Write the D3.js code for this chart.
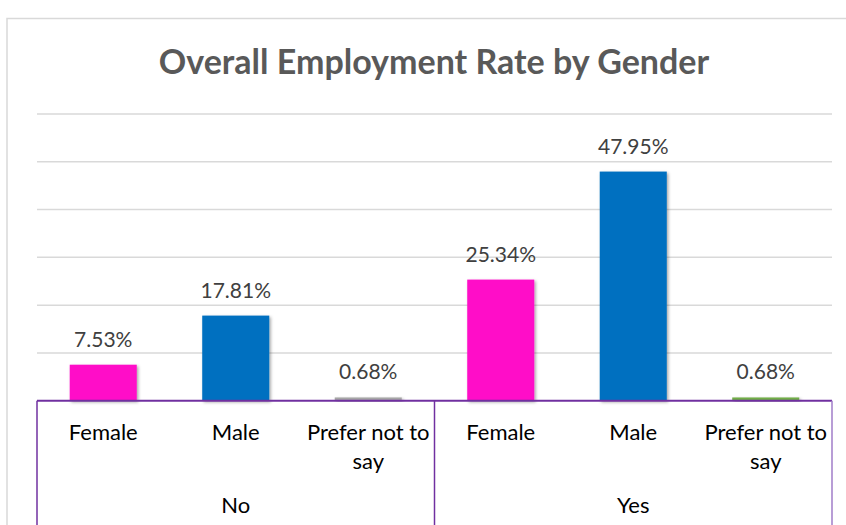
<!DOCTYPE html>
<html>
<head>
<meta charset="utf-8">
<script src="https://cdn.jsdelivr.net/npm/d3@7"></script>
<style>
  html, body { margin: 0; padding: 0; background: #fff; }
  svg { display: block; }
</style>
</head>
<body>
<svg id="chart" width="846" height="525"></svg>
<script>
// ---- data ----
const chartTitle = "Overall Employment Rate by Gender";
const groups = ["No", "Yes"];
const genders = ["Female", "Male", "Prefer not to say"];
const valuesNo = [7.53, 17.81, 0.68];
const valuesYes = [25.34, 47.95, 0.68];
const colorsNo = ["#FF0BC8", "#0070C0", "#A5A5A5"];
const colorsYes = ["#FF0BC8", "#0070C0", "#70AD47"];
const yTicks = [0, 10, 20, 30, 40, 50, 60];

(function () {
const rows = [];
groups.forEach((g, gi) => {
  const vals = gi === 0 ? valuesNo : valuesYes;
  const cols = gi === 0 ? colorsNo : colorsYes;
  genders.forEach((c, ci) => rows.push({ key: g + "|" + c, group: g, cat: c, value: vals[ci], color: cols[ci] }));
});

const svg = d3.select("#chart");
const font = "Lato, 'Open Sans', sans-serif";

const pLeft = 37, pRight = 832, pTop = 114, pBase = 400.7;

const x = d3.scaleBand().domain(rows.map(d => d.key)).range([pLeft, pRight]).paddingInner(0.494).paddingOuter(0.247);
const y = d3.scaleLinear().domain([0, 60]).range([pBase, pTop]);

// shadow filter
const defs = svg.append("defs");
const f = defs.append("filter").attr("id", "shadow").attr("x", "-20%").attr("y", "-20%").attr("width", "140%").attr("height", "140%");
f.append("feDropShadow").attr("dx", 1.5).attr("dy", 1.5).attr("stdDeviation", 1.6).attr("flood-color", "#000").attr("flood-opacity", 0.35);

// chart border (left and top edges visible)
svg.append("path").attr("d", "M7,525 V18.5 H846").attr("fill", "none").attr("stroke", "#D9D9D9").attr("stroke-width", 1.5);

// title
svg.append("text").attr("x", 434).attr("y", 74).attr("text-anchor", "middle")
  .attr("font-family", font).attr("font-weight", "bold").attr("font-size", 34).attr("fill", "#595959").text(chartTitle);

// gridlines
svg.append("g").selectAll("line").data(yTicks.filter(t => t > 0)).join("line")
  .attr("x1", pLeft).attr("x2", pRight).attr("y1", d => y(d)).attr("y2", d => y(d))
  .attr("stroke", "#D9D9D9").attr("stroke-width", 1.5);

// bars
svg.append("g").selectAll("rect").data(rows).join("rect")
  .attr("x", d => x(d.key)).attr("width", x.bandwidth())
  .attr("y", d => y(d.value)).attr("height", d => pBase - y(d.value))
  .attr("fill", d => d.color).attr("filter", "url(#shadow)");

// data labels
svg.append("g").selectAll("text").data(rows).join("text")
  .attr("x", d => x(d.key) + x.bandwidth() / 2).attr("y", d => y(d.value) - 18)
  .attr("text-anchor", "middle").attr("font-family", font).attr("font-size", 21).attr("fill", "#404040")
  .text(d => d.value.toFixed(2) + "%");

// axis line
svg.append("line").attr("x1", pLeft).attr("x2", pRight).attr("y1", pBase).attr("y2", pBase)
  .attr("stroke", "#7030A0").attr("stroke-width", 2);

// group separators
const sepX = [pLeft, (pLeft + pRight) / 2, pRight];
svg.append("g").selectAll("line").data(sepX).join("line")
  .attr("x1", d => d).attr("x2", d => d).attr("y1", pBase).attr("y2", 525)
  .attr("stroke", (d, i) => i === 2 ? "#A07CC8" : "#7030A0").attr("stroke-width", 1.5);

// category labels
const catG = svg.append("g").attr("font-family", font).attr("font-size", 22).attr("fill", "#000").attr("text-anchor", "middle");
rows.forEach(d => {
  const lines = d.cat === "Prefer not to say" ? ["Prefer not to", "say"] : [d.cat];
  const t = catG.append("text").attr("x", x(d.key) + x.bandwidth() / 2).attr("y", 440);
  lines.forEach((l, i) => t.append("tspan").attr("x", x(d.key) + x.bandwidth() / 2).attr("dy", i === 0 ? 0 : 29).text(l));
});

// group labels
const gScale = d3.scaleBand().domain(groups).range([pLeft, pRight]);
svg.append("g").selectAll("text").data(groups).join("text")
  .attr("x", d => gScale(d) + gScale.bandwidth() / 2).attr("y", 513)
  .attr("text-anchor", "middle").attr("font-family", font).attr("font-size", 22).attr("fill", "#000")
  .text(d => d);
})();
</script>
</body>
</html>
